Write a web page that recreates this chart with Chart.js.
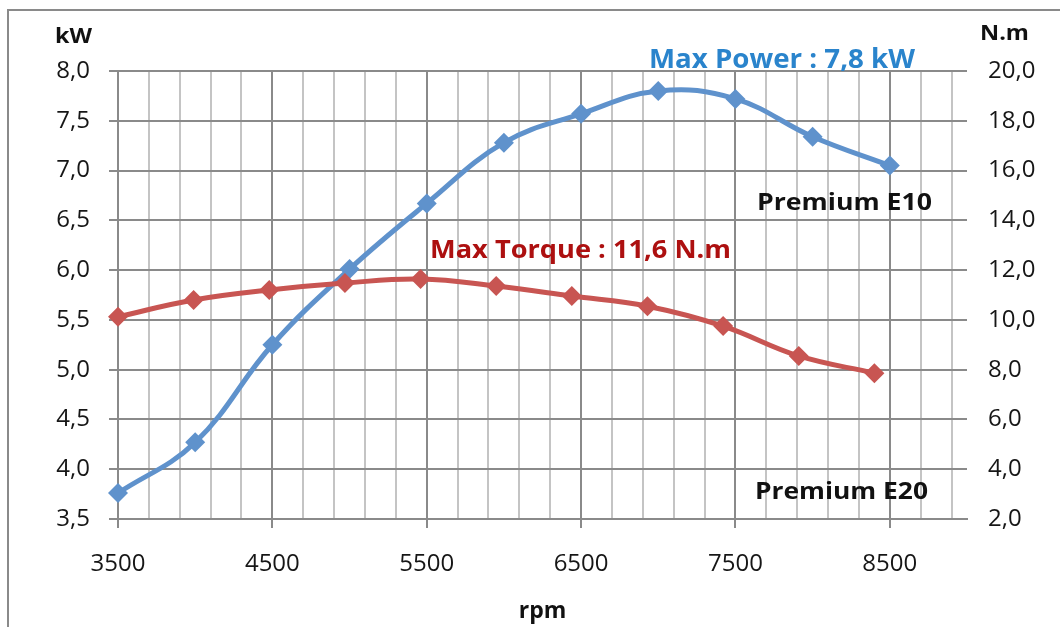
<!DOCTYPE html>
<html>
<head>
<meta charset="utf-8">
<title>Power and torque vs rpm</title>
<script src="https://cdn.jsdelivr.net/npm/chart.js@4.4.1/dist/chart.umd.min.js"></script>
<style>
  html, body { margin: 0; padding: 0; background: #fff; }
  #wrap { width: 1060px; height: 627px; }
</style>
</head>
<body>
<div id="wrap"><canvas id="engineChart" width="1060" height="627"></canvas></div>
<script>
// Power curve (kW, left axis)
const powerRpm = [3500, 4000, 4500, 5000, 5500, 6000, 6500, 7000, 7500, 8000, 8500];
const powerKw  = [3.76, 4.27, 5.25, 6.01, 6.67, 7.28, 7.57, 7.80, 7.72, 7.34, 7.05];

// Torque curve (N.m, right axis)
const torqueRpm = [3500, 3990, 4480, 4970, 5460, 5950, 6440, 6930, 7420, 7910, 8400];
const torqueNm  = [10.13, 10.80, 11.20, 11.48, 11.64, 11.36, 10.96, 10.55, 9.75, 8.55, 7.86];

// Axis ticks
const rpmLabels = [3500, 4500, 5500, 6500, 7500, 8500];
const kwTicks = [3.5, 4.0, 4.5, 5.0, 5.5, 6.0, 6.5, 7.0, 7.5, 8.0];
const nmTicks = [2, 4, 6, 8, 10, 12, 14, 16, 18, 20];

const FONT = '"Open Sans", sans-serif';
const GRID_DARK = '#8a8a8a';
const GRID_LIGHT = '#c4c4c4';
const BLUE = '#5f92cc';
const RED = '#c85552';

// text drawn on top of the chart (labels, notes)
const notes = [
    { text: 'Max Power : 7,8 kW', x: 649, y: 68, w: 266, font: 'bold 26px ' + FONT, color: '#2a84cc' },
    { text: 'Max Torque : 11,6 N.m', x: 430, y: 258, w: 301, font: 'bold 25px ' + FONT, color: '#ad1010' },
    { text: 'Premium E10', x: 757, y: 210, w: 175, font: 'bold 24px ' + FONT, color: '#111' },
    { text: 'Premium E20', x: 755, y: 499, w: 173, font: 'bold 24px ' + FONT, color: '#111' },
    { text: 'kW', x: 55, y: 43, w: 37, font: 'bold 22px ' + FONT, color: '#111' },
    { text: 'N.m', x: 980, y: 40, w: 49, font: 'bold 22px ' + FONT, color: '#111' }
];

function fitText(ctx, n) {
    ctx.save();
    ctx.font = n.font;
    ctx.fillStyle = n.color;
    ctx.textBaseline = 'alphabetic';
    const w = ctx.measureText(n.text).width;
    ctx.translate(n.x, n.y);
    ctx.scale(n.w / w, 1);
    ctx.fillText(n.text, 0, 0);
    ctx.restore();
}

const extras = {
    id: 'extras',
    beforeDraw(chart) {
        const ctx = chart.ctx;
        ctx.save();
        ctx.fillStyle = '#fff';
        ctx.fillRect(0, 0, chart.width, chart.height);
        // outer frame
        ctx.strokeStyle = GRID_DARK;
        ctx.lineWidth = 2;
        ctx.beginPath();
        ctx.moveTo(8, chart.height);
        ctx.lineTo(8, 10);
        ctx.lineTo(chart.width, 10);
        ctx.stroke();
        ctx.restore();
    },
    afterDraw(chart) {
        notes.forEach(n => fitText(chart.ctx, n));
    }
};

const fmt = v => Number(v).toFixed(1).replace('.', ',');

new Chart(document.getElementById('engineChart'), {
    type: 'line',
    data: {
        datasets: [
            {
                label: 'Torque',
                data: torqueRpm.map((r, i) => ({ x: r, y: torqueNm[i] })),
                yAxisID: 'y1',
                borderColor: RED,
                backgroundColor: RED,
                pointBackgroundColor: RED,
                order: 0
            },
            {
                label: 'Power',
                data: powerRpm.map((r, i) => ({ x: r, y: powerKw[i] })),
                yAxisID: 'y',
                borderColor: BLUE,
                backgroundColor: BLUE,
                pointBackgroundColor: BLUE,
                order: 1
            }
        ]
    },
    options: {
        responsive: false,
        animation: false,
        devicePixelRatio: 1,
        layout: { padding: { top: 71, left: 0, right: 0, bottom: 0 } },
        elements: {
            line: { borderWidth: 5, tension: 0.4, fill: false },
            point: { pointStyle: 'rectRot', radius: 10, borderWidth: 0 }
        },
        datasets: { line: { clip: false } },
        plugins: {
            legend: { display: false },
            tooltip: { enabled: false }
        },
        scales: {
            x: {
                type: 'linear',
                min: 3500,
                max: 9000,
                afterFit: s => { s.height = 108; },
                afterBuildTicks: s => {
                    const t = [];
                    for (let v = 3500; v < 9000; v += 200) t.push({ value: v });
                    s.ticks = t;
                },
                ticks: {
                    autoSkip: false,
                    maxRotation: 0,
                    padding: 22,
                    color: '#161616',
                    font: { family: FONT, size: 24 },
                    callback: v => rpmLabels.includes(v) ? String(v) : ''
                },
                grid: {
                    lineWidth: 2,
                    tickLength: 9,
                    color: c => rpmLabels.includes(c.tick && c.tick.value) ? GRID_DARK : GRID_LIGHT,
                    tickColor: c => rpmLabels.includes(c.tick && c.tick.value) ? GRID_DARK : 'rgba(0,0,0,0)'
                },
                border: { display: true, color: GRID_DARK, width: 2 },
                title: {
                    display: true,
                    text: 'rpm',
                    color: '#111',
                    font: { family: FONT, size: 23, weight: 'bold' },
                    padding: { top: 0, bottom: 2 }
                }
            },
            y: {
                position: 'left',
                min: 3.5,
                max: 8,
                afterFit: s => { s.width = 118; },
                afterBuildTicks: s => { s.ticks = kwTicks.map(v => ({ value: v })); },
                ticks: {
                    padding: 19,
                    color: '#161616',
                    font: { family: FONT, size: 24 },
                    callback: v => fmt(v)
                },
                grid: { color: GRID_DARK, lineWidth: 2, tickLength: 9, tickColor: GRID_DARK },
                border: { display: true, color: GRID_DARK, width: 2 }
            },
            y1: {
                position: 'right',
                min: 2,
                max: 20,
                afterFit: s => { s.width = 93; },
                afterBuildTicks: s => { s.ticks = nmTicks.map(v => ({ value: v })); },
                ticks: {
                    padding: 13,
                    color: '#161616',
                    font: { family: FONT, size: 24 },
                    callback: v => fmt(v)
                },
                grid: { display: false, drawOnChartArea: false },
                border: { display: false }
            }
        }
    },
    plugins: [extras]
});
</script>
</body>
</html>
